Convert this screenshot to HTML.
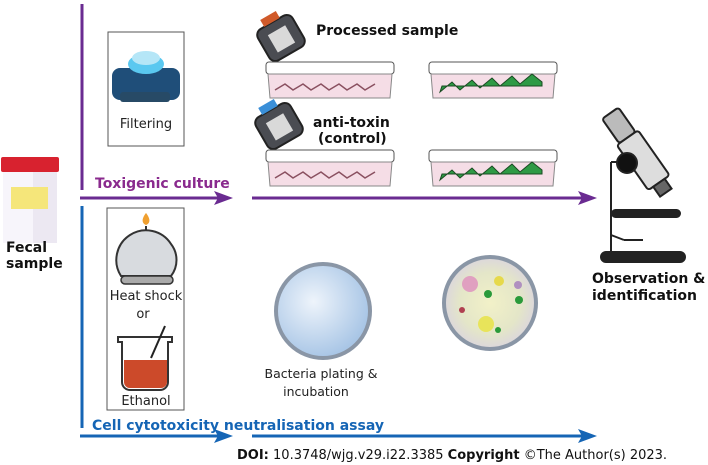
<!DOCTYPE html>
<html><head><style>
body{margin:0;background:#fff;}
svg{display:block;font-family:"DejaVu Sans","Liberation Sans",sans-serif;}
</style></head><body>
<svg width="708" height="465" viewBox="0 0 708 465" xmlns="http://www.w3.org/2000/svg">
<defs>
<radialGradient id="pl" cx="40%" cy="40%" r="60%"><stop offset="0" stop-color="#eef4fb"/><stop offset="1" stop-color="#a9c6e6"/></radialGradient>
<radialGradient id="pl2" cx="50%" cy="50%" r="55%"><stop offset="0" stop-color="#f2f1c8"/><stop offset="0.6" stop-color="#e4e6c8"/><stop offset="1" stop-color="#d9d2e2"/></radialGradient>
</defs>
<line x1="82" y1="4" x2="82" y2="190" stroke="#6a2b91" stroke-width="3"/>
<line x1="80" y1="198" x2="222" y2="198" stroke="#6a2b91" stroke-width="3"/>
<polygon points="233,198 214,191 218,198 214,205" fill="#6a2b91"/>
<line x1="252" y1="198" x2="584" y2="198" stroke="#6a2b91" stroke-width="3"/>
<polygon points="597,198 578,191 582,198 578,205" fill="#6a2b91"/>
<text x="95" y="188" font-size="14" font-weight="bold" fill="#8a2a8e">Toxigenic culture</text>
<line x1="82" y1="206" x2="82" y2="428" stroke="#1565b5" stroke-width="3"/>
<line x1="80" y1="436" x2="222" y2="436" stroke="#1565b5" stroke-width="3"/>
<polygon points="233,436 214,429 218,436 214,443" fill="#1565b5"/>
<line x1="252" y1="436" x2="584" y2="436" stroke="#1565b5" stroke-width="3"/>
<polygon points="597,436 578,429 582,436 578,443" fill="#1565b5"/>
<text x="92" y="430" font-size="14" font-weight="bold" fill="#1565b5">Cell cytotoxicity neutralisation assay</text>
<rect x="3" y="163" width="54" height="80" fill="#ece8f2"/>
<rect x="3" y="163" width="30" height="80" fill="#f7f5fb"/>
<rect x="1" y="157" width="58" height="15" rx="2" fill="#d8222f"/>
<rect x="11" y="187" width="37" height="22" fill="#f5e67a"/>
<text x="6" y="252" font-size="14" font-weight="bold" fill="#111">Fecal</text>
<text x="6" y="268" font-size="14" font-weight="bold" fill="#111">sample</text>
<rect x="108" y="32" width="76" height="114" fill="#fff" stroke="#555" stroke-width="1"/>
<rect x="112" y="68" width="68" height="32" rx="8" fill="#1f4e79"/>
<rect x="120" y="92" width="50" height="10" rx="3" fill="#274a66"/>
<ellipse cx="146" cy="64" rx="18" ry="10" fill="#5ac8f0"/>
<ellipse cx="146" cy="58" rx="14" ry="7" fill="#b5e6f7"/>
<text x="146" y="128" font-size="13" text-anchor="middle" fill="#222">Filtering</text>
<rect x="107" y="208" width="77" height="202" fill="#fff" stroke="#555" stroke-width="1"/>
<path d="M146 213 c-4 5 -5 10 0 12 c5 -2 4 -7 0 -12z" fill="#f0a030"/>
<line x1="146" y1="226" x2="146" y2="236" stroke="#333" stroke-width="2"/>
<path d="M121 276 a26 26 0 0 1 50 -32 a26 26 0 0 1 -0 32z" fill="#d8dbdf" stroke="#333" stroke-width="2"/>
<rect x="121" y="276" width="52" height="8" rx="4" fill="#aaa" stroke="#333" stroke-width="1.5"/>
<text x="146" y="300" font-size="13" text-anchor="middle" fill="#222">Heat shock</text>
<text x="143" y="318" font-size="13" text-anchor="middle" fill="#222">or</text>
<path d="M118 337 h54 v5 h-4 v40 a8 8 0 0 1 -8 8 h-30 a8 8 0 0 1 -8 -8 v-40 h-4z" fill="#fff" stroke="#333" stroke-width="2"/>
<path d="M124 360 h43 v22 a6 6 0 0 1 -6 6 h-31 a6 6 0 0 1 -6 -6z" fill="#cc4a2a"/>
<line x1="151" y1="358" x2="165" y2="326" stroke="#222" stroke-width="2"/>
<text x="146" y="405" font-size="13" text-anchor="middle" fill="#222">Ethanol</text>
<g transform="translate(281,38) rotate(-30)"><rect x="-20" y="-18" width="40" height="36" rx="7" fill="#4a4c52" stroke="#222" stroke-width="2"/><rect x="-10" y="-9" width="20" height="20" fill="#d9d9d9"/><rect x="-9" y="-26" width="18" height="8" fill="#d05a2a"/></g>
<g transform="translate(279,126) rotate(-30)"><rect x="-20" y="-18" width="40" height="36" rx="7" fill="#4a4c52" stroke="#222" stroke-width="2"/><rect x="-10" y="-9" width="20" height="20" fill="#d9d9d9"/><rect x="-9" y="-26" width="18" height="8" fill="#3a8fd8"/></g>
<text x="316" y="35" font-size="14" font-weight="bold" fill="#111">Processed sample</text>
<text x="313" y="127" font-size="14" font-weight="bold" fill="#111">anti-toxin</text>
<text x="318" y="143" font-size="14" font-weight="bold" fill="#111">(control)</text>
<g id="d1"><rect x="266" y="62" width="128" height="12" rx="3" fill="#fff" stroke="#555"/><path d="M268 74 h124 l-2 24 h-120z" fill="#f5dde6" stroke="#888"/><path d="M275 90 l10 -6 l8 6 l10 -6 l8 6 l10 -6 l8 6 l10 -6 l8 6 l10 -6 l8 6 l10 -6" fill="none" stroke="#8a5060" stroke-width="1.5"/></g>
<use href="#d1" y="88"/>
<g id="d2"><rect x="429" y="62" width="128" height="12" rx="3" fill="#fff" stroke="#555"/><path d="M431 74 h124 l-2 24 h-120z" fill="#f5dde6" stroke="#888"/><path d="M440 92 l12 -10 l8 8 l12 -10 l8 8 l12 -10 l8 8 l12 -10 l8 8 l12 -10 l10 8 v4 h-100z" fill="#2e9a45" stroke="#1a4a22"/></g>
<use href="#d2" y="88"/>
<g stroke="#222" stroke-width="2">
<rect x="601" y="252" width="84" height="10" rx="5" fill="#222"/>
<line x1="611" y1="162" x2="611" y2="255"/>
<line x1="611" y1="162" x2="622" y2="162"/>
<rect x="612" y="210" width="68" height="7" rx="3.5" fill="#222"/>
<line x1="611" y1="235" x2="624" y2="240"/><line x1="624" y1="240" x2="643" y2="240"/>
<g transform="translate(636,150) rotate(-35)"><rect x="-10" y="-45" width="20" height="30" rx="3" fill="#bbb"/><rect x="-13" y="-15" width="26" height="55" rx="3" fill="#ddd"/><rect x="-7" y="40" width="14" height="12" fill="#666"/></g>
<circle cx="627" cy="163" r="10" fill="#111"/>
</g>
<text x="592" y="283" font-size="14" font-weight="bold" fill="#111">Observation &amp;</text>
<text x="592" y="300" font-size="14" font-weight="bold" fill="#111">identification</text>
<circle cx="323" cy="311" r="47" fill="url(#pl)" stroke="#8a96a6" stroke-width="4"/>
<circle cx="490" cy="303" r="46" fill="url(#pl2)" stroke="#8a96a6" stroke-width="4"/>
<circle cx="470" cy="284" r="8" fill="#e0a0c0"/><circle cx="499" cy="281" r="5" fill="#e6d94a"/><circle cx="488" cy="294" r="4" fill="#2a9a3a"/><circle cx="519" cy="300" r="4" fill="#2a9a3a"/><circle cx="486" cy="324" r="8" fill="#e8e45a"/><circle cx="498" cy="330" r="3" fill="#2a9a3a"/><circle cx="462" cy="310" r="3" fill="#b04050"/><circle cx="518" cy="285" r="4" fill="#b090c0"/>
<text x="321" y="378" font-size="12.5" text-anchor="middle" fill="#222">Bacteria plating &amp;</text>
<text x="316" y="396" font-size="12.5" text-anchor="middle" fill="#222">incubation</text>
<text x="237" y="459" font-size="13" fill="#111"><tspan font-weight="bold">DOI:</tspan> 10.3748/wjg.v29.i22.3385  <tspan font-weight="bold">Copyright</tspan> ©The Author(s) 2023.</text>
</svg>
</body></html>
